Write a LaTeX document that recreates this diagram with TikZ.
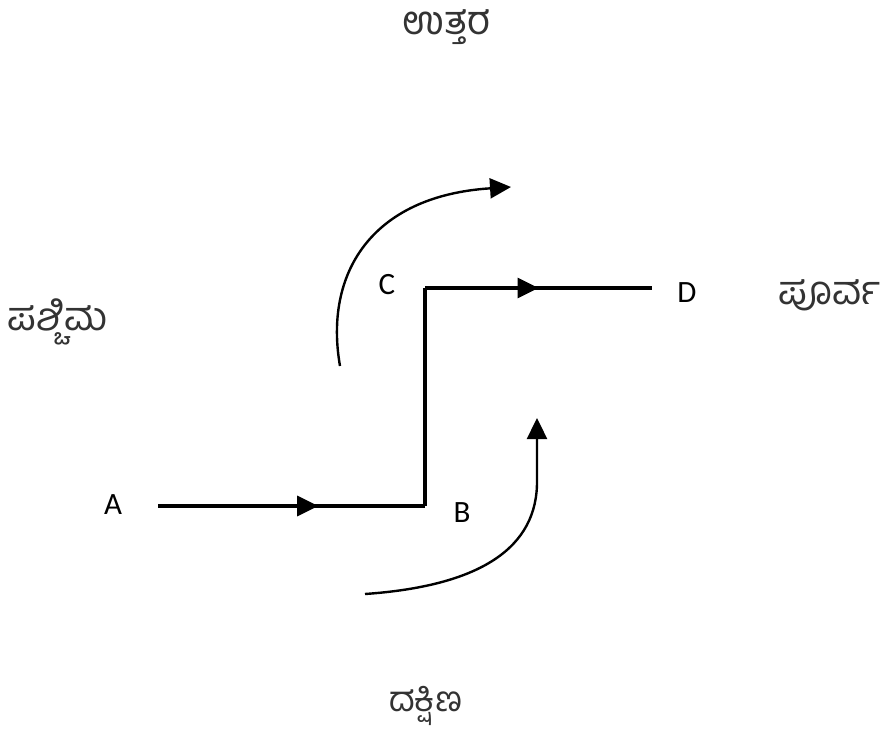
\documentclass[tikz,border=0pt]{standalone}
\usepackage{fontspec}
\setmainfont{Carlito}
\newfontfamily\kan[Script=Kannada]{Hind Mysuru}
\usetikzlibrary{arrows.meta,decorations.markings}
\tikzset{
  lbl/.style={font=\fontsize{31}{34}\selectfont, inner sep=0pt},
  dirlbl/.style={font=\kan\fontsize{40}{44}\selectfont, inner sep=0pt, text=black!80},
  mainline/.style={line width=3.2pt},
  curveline/.style={line width=2.4pt, -{Triangle[length=21pt,width=20pt]}},
  midarrow/.style={postaction={decorate},
    decoration={markings, mark=at position #1 with {\arrow{Triangle[length=21pt,width=20pt]}}}}
}
\begin{document}
\begin{tikzpicture}[x=1pt,y=-1pt]
\useasboundingbox (0,0) rectangle (889,743);
% direction labels
\node[dirlbl] (N) at (447,27) {ಉತ್ತರ};
\node[dirlbl] (W) at (58,322) {ಪಶ್ಚಿಮ};
\node[dirlbl] (E) at (830,295) {ಪೂರ್ವ};
\node[dirlbl, font=\kan\fontsize{35}{38}\selectfont] (S) at (426,706) {ದಕ್ಷಿಣ};
% point labels
\node[lbl] (A) at (113,505) {A};
\node[lbl] (B) at (462,513) {B};
\node[lbl] (C) at (387,285) {C};
\node[lbl] (D) at (687,293) {D};
% path coordinates
\coordinate (a1) at (158,506);
\coordinate (b1) at (425,506);
\coordinate (c1) at (425,288);
\coordinate (d1) at (652,288);
\draw[mainline, midarrow=0.6] (a1) -- (b1);
\draw[mainline] (b1) -- (c1);
\draw[mainline, midarrow=0.5] (c1) -- (d1);
% curved arrows
\coordinate (t0) at (340,366);
\coordinate (t1) at (511,187);
\draw[curveline] (t0) .. controls (324,275) and (370,196) .. (t1);
\coordinate (s0) at (365,594);
\coordinate (s1) at (537,418);
\draw[curveline] (s0) .. controls (480,586) and (538,548) .. (537,480) -- (s1);
\end{tikzpicture}
\end{document}
